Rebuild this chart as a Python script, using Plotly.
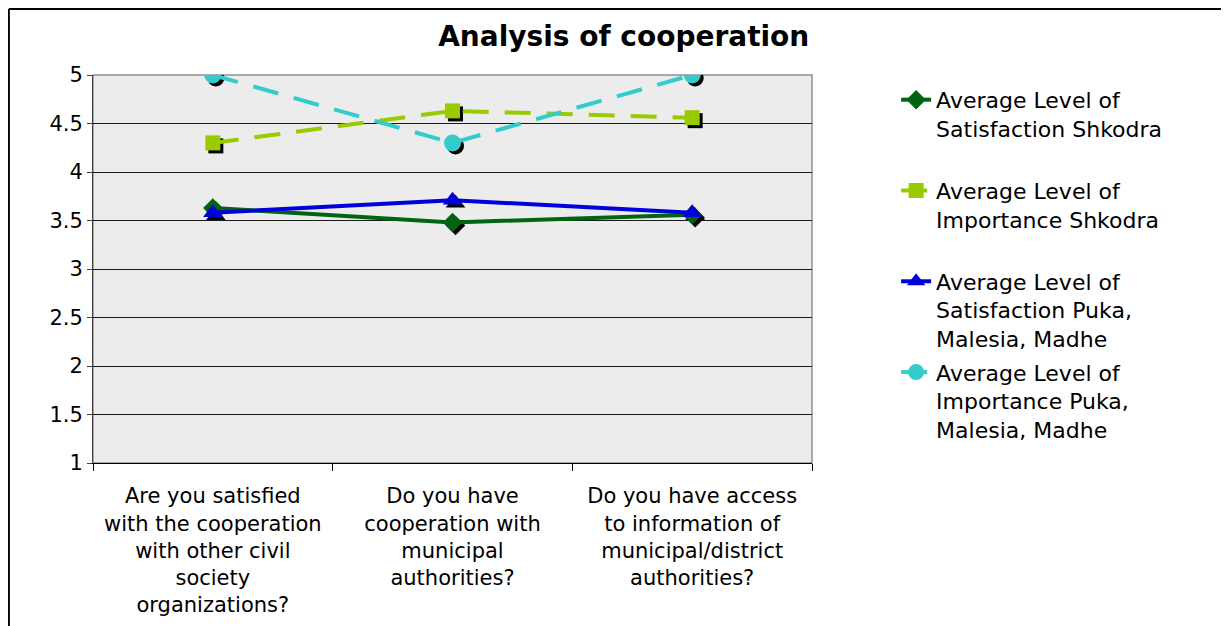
import plotly.graph_objects as go

categories = [
    "Are you satisfied<br>with the cooperation<br>with other civil<br>society<br>organizations?",
    "Do you have<br>cooperation with<br>municipal<br>authorities?",
    "Do you have access<br>to information of<br>municipal/district<br>authorities?",
]
sat_shkodra = [3.63, 3.48, 3.56]
imp_shkodra = [4.30, 4.63, 4.56]
sat_puka = [3.58, 3.71, 3.58]
imp_puka = [5.0, 4.30, 5.0]
y_ticks = [1, 1.5, 2, 2.5, 3, 3.5, 4, 4.5, 5]

series = [
    ("Average Level of<br>Satisfaction Shkodra<br> ", sat_shkodra, "#006411", "solid", "diamond", 15),
    ("Average Level of<br>Importance Shkodra<br> ", imp_shkodra, "#99cc00", "26px,16px", "square", 15),
    ("Average Level of<br>Satisfaction Puka,<br>Malesia, Madhe", sat_puka, "#0000dd", "solid", "triangle-up", 17),
    ("Average Level of<br>Importance Puka,<br>Malesia, Madhe", imp_puka, "#33cccc", "26px,16px", "circle", 17),
]

font = "DejaVu Sans, Verdana, sans-serif"
fig = go.Figure()

# base subplot only sets the categories
fig.add_trace(go.Scatter(x=categories, y=sat_shkodra, mode="none", showlegend=False, hoverinfo="skip"))

# marker shadows on a slightly shifted overlay
for name, vals, color, dash, sym, size in series:
    fig.add_trace(go.Scatter(
        x=categories, y=vals, mode="markers", xaxis="x2", yaxis="y2",
        marker=dict(symbol=sym, size=size, color="black"),
        showlegend=False, hoverinfo="skip",
    ))

for i, (name, vals, color, dash, sym, size) in enumerate(series):
    fig.add_trace(go.Scatter(
        x=categories, y=vals, name=name, mode="lines+markers", xaxis="x3", yaxis="y3",
        line=dict(color=color, width=4, dash=dash),
        marker=dict(symbol=sym, size=size, color=color),
        legendgroup=str(i),
    ))

xr = [-0.5, 2.5]
yr = [1, 5]
dx = 3 / 239.7
dy = 3 / 97.0

fig.update_layout(
    width=1229, height=626,
    margin=dict(l=85, r=425, t=67, b=171),
    paper_bgcolor="white", plot_bgcolor="#ececec",
    font=dict(family=font, size=20, color="black"),
    title=dict(text="<b>Analysis of cooperation</b>", x=0.501, xref="container",
               y=1 - 28 / 626, yref="container", xanchor="center", yanchor="middle",
               font=dict(size=28, family=font)),
    xaxis=dict(type="category", range=xr, tickson="boundaries", ticks="outside", ticklen=7,
               tickcolor="black", showline=True, linecolor="black", linewidth=1,
               showgrid=False, tickfont=dict(size=21), ticklabelstandoff=14, fixedrange=True),
    yaxis=dict(range=yr, tickvals=y_ticks, ticktext=[f"{v:g}" for v in y_ticks],
               ticks="outside", ticklen=5, tickcolor="#404040", showline=True,
               linecolor="#404040", linewidth=1, showgrid=True, gridcolor="#1a1a1a",
               gridwidth=1, zeroline=False, fixedrange=True, tickfont=dict(size=21)),
    xaxis2=dict(type="category", overlaying="x", range=[xr[0] - dx, xr[1] - dx], visible=False),
    yaxis2=dict(overlaying="y", range=[yr[0] + dy, yr[1] + dy], visible=False),
    xaxis3=dict(type="category", overlaying="x", range=xr, visible=False),
    yaxis3=dict(overlaying="y", range=yr, visible=False),
    legend=dict(x=1.117, xanchor="left", y=0.99, yanchor="top", valign="top",
                font=dict(size=22, family=font), tracegroupgap=2, bgcolor="rgba(0,0,0,0)"),
    showlegend=True,
    shapes=[
        dict(type="rect", xref="paper", yref="paper", x0=0, x1=1, y0=0, y1=1,
             line=dict(color="#909090", width=1.5), layer="below"),
        dict(type="line", xref="paper", yref="paper", x0=-0.117, x1=1.7, y0=1.17, y1=1.17,
             line=dict(color="black", width=2)),
        dict(type="line", xref="paper", yref="paper", x0=-0.117, x1=-0.117, y0=1.17, y1=-0.6,
             line=dict(color="black", width=2)),
    ],
)

fig.write_html("out.html")
